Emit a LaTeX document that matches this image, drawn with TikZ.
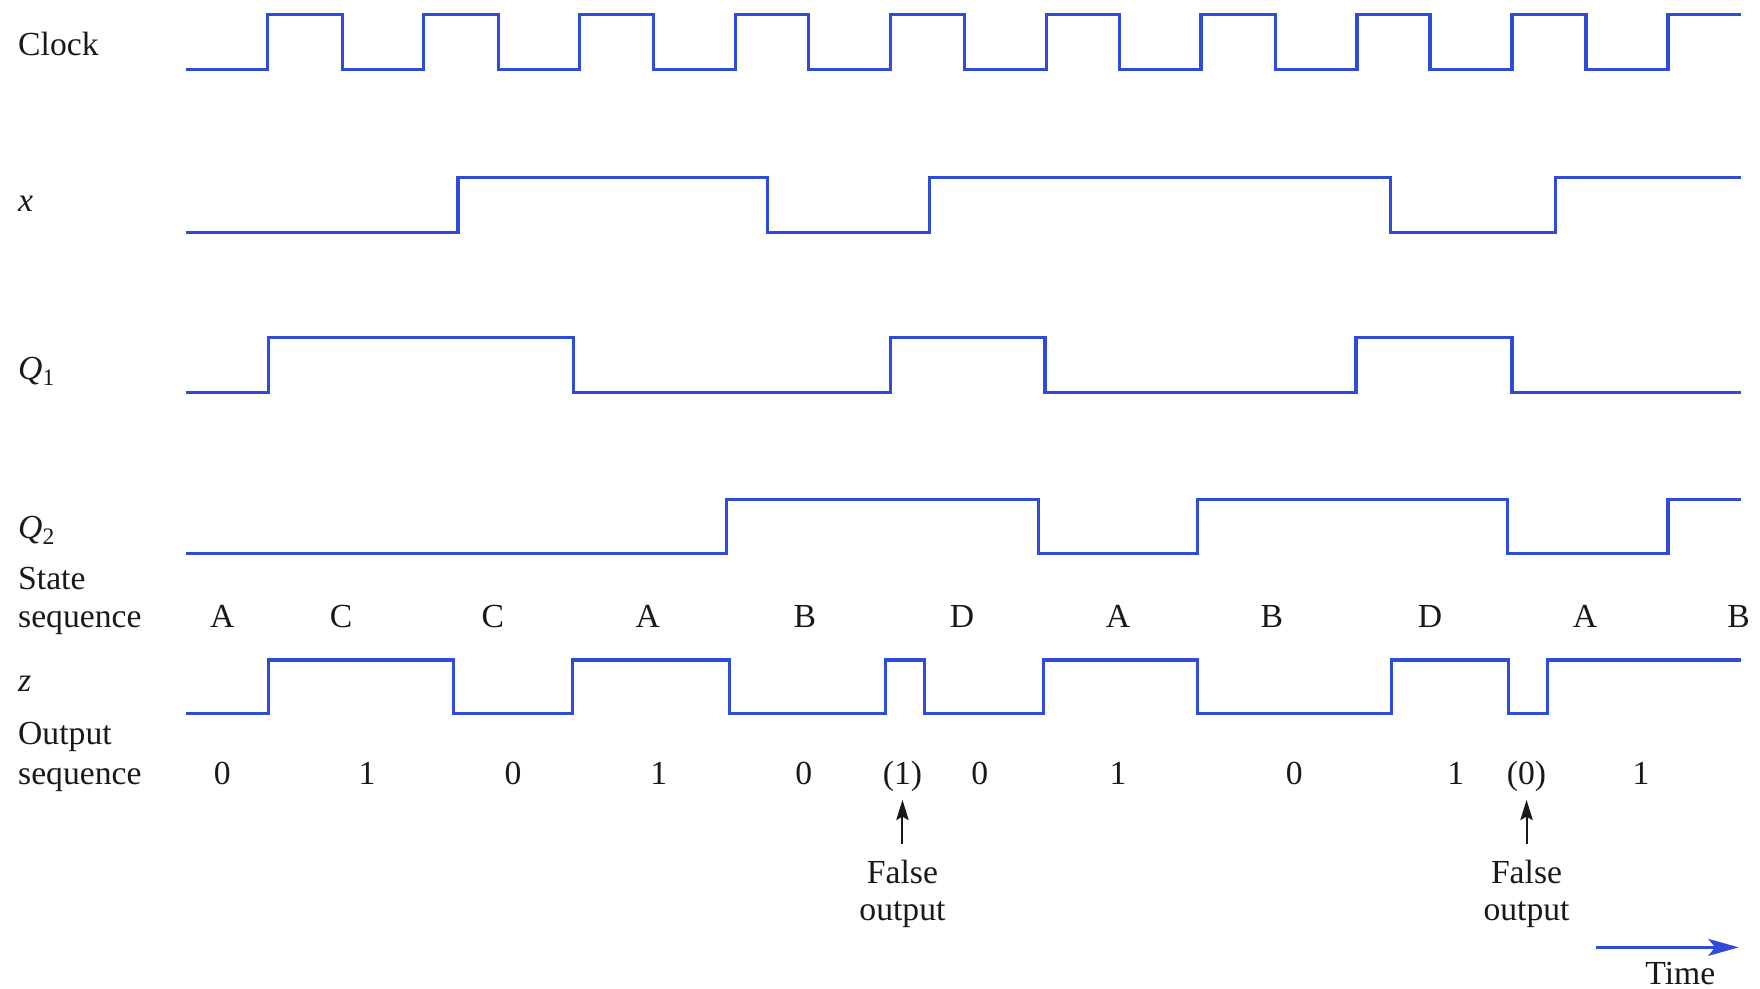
\documentclass[tikz,border=0pt]{standalone}
\usepackage{fontspec}
\setmainfont{Liberation Serif}
\usetikzlibrary{arrows.meta}
\definecolor{sigblue}{RGB}{46,76,214}
\definecolor{ink}{RGB}{25,25,25}
\begin{document}
\begin{tikzpicture}[x=1pt,y=-1pt,
  sig/.style={draw=sigblue,line width=2.8pt},
  lbl/.style={inner sep=0pt,anchor=base west,text=ink,font=\fontsize{30}{36}\selectfont},
  val/.style={inner sep=0pt,anchor=base,text=ink,font=\fontsize{30}{36}\selectfont},
  note/.style={-{Stealth[length=18pt,width=11pt,inset=3pt]},line width=1.8pt,ink},
  timearrow/.style={-{Stealth[length=27pt,width=15pt,inset=6pt]},draw=sigblue,line width=3.2pt}]
\useasboundingbox (0,0) rectangle (1568,881);

% signal names
\node[lbl] (lclk) at (16,49) {Clock};
\node[lbl] (lx) at (16,188) {\itshape x};
\node[lbl] (lq1) at (16,338) {{\itshape Q}\textsubscript{1}};
\node[lbl] (lq2) at (16,480) {{\itshape Q}\textsubscript{2}};
\node[lbl] (lst1) at (16,525) {State};
\node[lbl] (lst2) at (16,559) {sequence};
\node[lbl] (lz) at (16,616) {\itshape z};
\node[lbl] (lout1) at (16,663) {Output};
\node[lbl] (lout2) at (16,699) {sequence};

% waveforms
\draw[sig] (166,62) -| (238,13) -| (305,62) -| (377,13) -| (444,62) -| (516,13)
  -| (582,62) -| (655,13) -| (720,62) -| (793,13) -| (859,62) -| (932,13)
  -| (997,62) -| (1070,13) -| (1136,62) -| (1209,13) -| (1274,62) -| (1347,13)
  -| (1413,62) -| (1486,13) -- (1551,13);
\draw[sig] (166,207) -| (408,158) -| (684,207) -| (828,158) -| (1239,207)
  -| (1386,158) -- (1551,158);
\draw[sig] (166,350) -| (239,301) -| (511,350) -| (793,301) -| (931,350)
  -| (1208,301) -| (1347,350) -- (1551,350);
\draw[sig] (166,493) -| (647,445) -| (925,493) -| (1067,445) -| (1343,493)
  -| (1486,445) -- (1551,445);
\draw[sig] (166,636) -| (239,588) -| (404,636) -| (510,588) -| (650,636)
  -| (789,588) -| (824,636) -| (930,588) -| (1067,636) -| (1240,588)
  -| (1344,636) -| (1379,588) -- (1551,588);

% state sequence
\foreach \xx/\s [count=\i] in {198/A,304/C,439/C,577/A,717/B,857/D,996/A,1133/B,1274/D,1412/A,1549/B}
  \node[val] (s\i) at (\xx,559) {\s};

% output sequence
\foreach \xx/\s [count=\i] in {198/0,327/1,457/0,587/1,716/0,804/(1),873/0,996/1,1153/0,1297/1,1360/(0),1462/1}
  \node[val] (o\i) at (\xx,699) {\s};

% false output notes
\node[val] (fa1) at (804,787) {False};
\node[val] (fb1) at (804,820) {output};
\node[val] (fa2) at (1360,787) {False};
\node[val] (fb2) at (1360,820) {output};
\draw[note,shorten <=14pt,shorten >=7pt] (fa1.north) -- (o6.south);
\draw[note,shorten <=14pt,shorten >=7pt] (fa2.north) -- (o11.south);

% time axis
\node[val] (time) at (1497,877) {Time};
\coordinate (t0) at (1422,844);
\coordinate (t1) at (1549,844);
\draw[timearrow] (t0) -- (t1);
\end{tikzpicture}
\end{document}
